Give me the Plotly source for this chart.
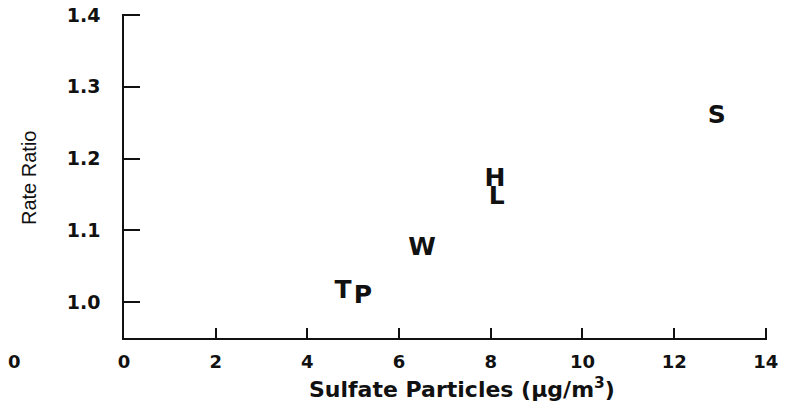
import plotly.graph_objects as go

# Data
labels = ["T", "P", "W", "H", "L", "S"]
sulfate = [4.78, 5.21, 6.50, 8.09, 8.13, 12.93]
rate_ratio = [1.014, 1.007, 1.074, 1.171, 1.146, 1.258]

x_ticks = [0, 2, 4, 6, 8, 10, 12, 14]
y_ticks = [1.0, 1.1, 1.2, 1.3, 1.4]
y_tick_text = ["1.0", "1.1", "1.2", "1.3", "1.4"]

FONT = "DejaVu Sans, Liberation Sans, Arial, sans-serif"
INK = "#111111"

# page body has an 8px default margin: plot area target is x 124..766, y 15..338 in the window
OFF = 8
L, R, T, B = 124 - OFF, 792 - (767 - OFF), 14 - OFF, 409 - (338 - OFF)
PW, PH = 643, 324

fig = go.Figure()
fig.add_trace(go.Scatter(
    x=sulfate, y=rate_ratio, mode="text", text=labels,
    textposition="middle center",
    textfont=dict(family=FONT, size=25, color=INK, weight="bold"),
    cliponaxis=False, showlegend=False, hoverinfo="x+y+text",
))

fig.update_layout(
    width=792, height=409,
    margin=dict(l=L, r=R, t=T, b=B, autoexpand=False),
    paper_bgcolor="white", plot_bgcolor="white",
    xaxis=dict(
        range=[0, 14.025], tickvals=x_ticks, ticks="inside", ticklen=10,
        tickwidth=1.5, tickcolor=INK, showline=True, linecolor=INK, linewidth=1.5,
        showgrid=False, zeroline=False, automargin=False,
        tickfont=dict(family=FONT, size=18, color=INK, weight="bold"),
        ticklabelstandoff=7, ticklabeloverflow="allow",
    ),
    yaxis=dict(
        range=[0.95, 1.4015], tickvals=y_ticks, ticktext=y_tick_text,
        ticks="inside", ticklen=16, tickwidth=1.5, tickcolor=INK,
        showline=True, linecolor=INK, linewidth=1.5,
        showgrid=False, zeroline=False, automargin=False,
        tickfont=dict(family=FONT, size=19, color=INK, weight="bold"),
        ticklabelstandoff=18, ticklabeloverflow="allow",
    ),
    annotations=[
        dict(text="Sulfate Particles (μg/m<sup>3</sup>)", xref="paper", yref="paper",
             x=(462 - 124) / PW, y=-(388 - 338) / PH, xanchor="center", yanchor="middle",
             showarrow=False, font=dict(family=FONT, size=22, color=INK, weight="bold")),
        dict(text="Rate Ratio", xref="paper", yref="paper",
             x=-(124 - 29) / PW, y=(338 - 178) / PH, xanchor="center", yanchor="middle",
             textangle=-90, showarrow=False,
             font=dict(family="Liberation Sans, Arial, sans-serif", size=20, color=INK)),
        dict(text="0", xref="paper", yref="paper",
             x=-(124 - 14) / PW, y=-(361 - 338) / PH, xanchor="center", yanchor="middle",
             showarrow=False, font=dict(family=FONT, size=18, color=INK, weight="bold")),
    ],
)

fig.write_html("out.html")
